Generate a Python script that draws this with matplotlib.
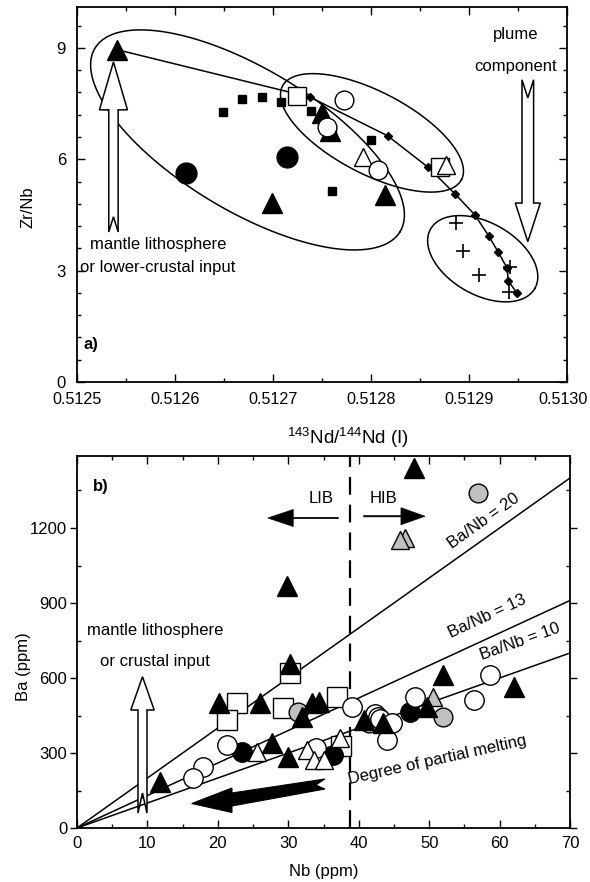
import numpy as np
import matplotlib
matplotlib.use('Agg')
import matplotlib.pyplot as plt
from matplotlib.patches import Polygon, FancyArrow
from matplotlib.ticker import MultipleLocator, FormatStrFormatter
from matplotlib.transforms import ScaledTranslation

plt.rcParams['font.family'] = ['Liberation Sans', 'DejaVu Sans']
plt.rcParams['mathtext.fontset'] = 'custom'
plt.rcParams['mathtext.rm'] = 'Liberation Sans'
plt.rcParams['mathtext.it'] = 'Liberation Sans:italic'
plt.rcParams['mathtext.bf'] = 'Liberation Sans:bold'

# ---------------- Panel a data ----------------
fsq_x = [0.512649, 0.512668, 0.512689, 0.512708, 0.512739, 0.512760, 0.512800, 0.512760]
fsq_y = [7.28, 7.63, 7.67, 7.55, 7.29, 6.77, 6.52, 5.15]
ftri_a_x = [0.512541, 0.512750, 0.512758, 0.512814, 0.512699]
ftri_a_y = [8.95, 7.24, 6.75, 5.04, 4.82]
fcir_a_x = [0.512714, 0.512611]
fcir_a_y = [6.07, 5.63]
osq_a_x = [0.512724, 0.512870]
osq_a_y = [7.70, 5.80]
ocir_a_x = [0.512772, 0.512755, 0.512807]
ocir_a_y = [7.60, 6.88, 5.71]
otri_a_x = [0.512792, 0.512877]
otri_a_y = [6.07, 5.85]
cross_x = [0.512887, 0.512894, 0.512910, 0.512942, 0.512941]
cross_y = [4.28, 3.53, 2.88, 3.09, 2.43]
mix_x = [0.512541, 0.512738, 0.512817, 0.512858, 0.512886, 0.512906,
         0.512920, 0.512930, 0.512939, 0.512940, 0.512949]
mix_y = [8.95, 7.67, 6.63, 5.79, 5.06, 4.50, 3.94, 3.49, 3.06, 2.73, 2.39]
a_xticks = [0.5125, 0.5126, 0.5127, 0.5128, 0.5129, 0.5130]
a_yticks = [0, 3, 6, 9]

# ---------------- Panel b data ----------------
ftri_b_x = [29.8, 30.3, 20.1, 26.0, 31.9, 33.3, 34.3, 11.8, 27.7, 30.0,
            40.7, 43.5, 49.7, 52.0, 62.0, 47.8]
ftri_b_y = [968, 655, 499, 499, 445, 499, 505, 185, 339, 285,
            432, 419, 485, 612, 565, 1439]
fcir_b_x = [23.4, 36.4, 47.3]
fcir_b_y = [305, 292, 465]
ocir_b_x = [21.3, 17.9, 16.5, 39.0, 42.3, 42.8, 43.0, 44.7, 44.0, 48.0, 56.3, 58.7, 34.0]
ocir_b_y = [332, 245, 199, 485, 455, 445, 435, 419, 352, 525, 512, 612, 319]
osq_b_x = [30.3, 22.7, 21.3, 29.3, 36.9, 37.5]
osq_b_y = [619, 499, 432, 479, 525, 330]
otri_b_x = [25.5, 32.6, 33.6, 35.0, 37.4]
otri_b_y = [305, 312, 272, 272, 359]
gcir_b_x = [31.4, 41.4, 52.0, 57.0]
gcir_b_y = [465, 419, 445, 1339]
gtri_b_x = [46.6, 45.9, 50.6]
gtri_b_y = [1159, 1152, 525]
ratios = [20, 13, 10]
ratio_labels = ['Ba/Nb = 20', 'Ba/Nb = 13', 'Ba/Nb = 10']
ratio_label_pos = [(57.8, 1228), (58.2, 848), (62.9, 745)]
lib_hib_x = 38.8
b_xticks = [0, 10, 20, 30, 40, 50, 60, 70]
b_yticks = [0, 300, 600, 900, 1200]

W, H = 590, 882
fig = plt.figure(figsize=(W / 100, H / 100), dpi=100)
fig.patch.set_facecolor('white')

axA = fig.add_axes([77 / W, 1 - 382 / H, 490 / W, 375 / H])
axB = fig.add_axes([77 / W, 1 - 828 / H, 493 / W, 372 / H])

GRAY = '#c0c0c0'
LW = 1.0
FS = 12

def style(ax):
    for s in ax.spines.values():
        s.set_linewidth(1.3)
    ax.tick_params(which='both', direction='in', top=True, right=True,
                   width=1.0, labelsize=FS, color='k')
    ax.tick_params(which='major', length=6)
    ax.tick_params(which='minor', length=3)

# ================= Panel a =================
ax = axA
ax.set_xlim(0.5125, 0.5130)
ax.set_ylim(0, 10.1)
style(ax)
ax.set_xticks(a_xticks)
ax.xaxis.set_major_formatter(FormatStrFormatter('%.4f'))
ax.xaxis.set_minor_locator(MultipleLocator(0.00005))
ax.set_yticks(a_yticks)
ax.yaxis.set_minor_locator(MultipleLocator(0.6))
ax.tick_params(axis='x', pad=7, labelsize=11.6)
ax.tick_params(axis='y', pad=8)

# pixel -> data scale factors
sxA = (0.5130 - 0.5125) / 490.0
syA = 10.1 / 375.0

def ellipse(ax, cx, cy, a_px, b_px, ang, sx, sy):
    t = np.linspace(0, 2 * np.pi, 400)
    th = np.deg2rad(ang)
    u = a_px * np.cos(t)
    v = b_px * np.sin(t)
    dx = u * np.cos(th) - v * np.sin(th)
    dy = u * np.sin(th) + v * np.cos(th)
    ax.plot(cx + dx * sx, cy - dy * sy, color='k', lw=1.1, zorder=2)

ellipse(ax, 0.512674, 6.52, 178, 71, 31, sxA, syA)
ellipse(ax, 0.512801, 6.71, 101, 41, 27.6, sxA, syA)
ellipse(ax, 0.512914, 3.32, 60, 36, 29.7, sxA, syA)

def vert_arrow(ax, xc, y_tip, y_hb, y_tail, y_notch, hw_px, sw_px, sx,
               fc='white', lw=1.1):
    hw = hw_px * sx
    sw = sw_px * sx
    verts = [(xc, y_tip), (xc + hw, y_hb), (xc + sw, y_hb), (xc + sw, y_tail),
             (xc, y_notch), (xc - sw, y_tail), (xc - sw, y_hb), (xc - hw, y_hb)]
    ax.add_patch(Polygon(verts, closed=True, fc=fc, ec='k', lw=lw, zorder=3))

# mantle lithosphere arrow (up)
vert_arrow(ax, 0.5125372, 8.62, 7.33, 4.04, 4.45, 14, 4.7, sxA)
# plume component arrow (down)
vert_arrow(ax, 0.512960, 3.78, 4.82, 8.14, 7.65, 12.5, 5.8, sxA)

# mixing line with diamonds
ax.plot(mix_x, mix_y, color='k', lw=1.1, zorder=3)
ax.plot(mix_x[1:], mix_y[1:], ls='none', marker='D', ms=4.2, mfc='k', mec='k', zorder=4)

ax.plot(fsq_x, fsq_y, ls='none', marker='s', ms=6.3, mfc='k', mec='k', zorder=5)
ax.plot(osq_a_x, osq_a_y, ls='none', marker='s', ms=13.5, mfc='white', mec='k', mew=LW, zorder=5)
ax.plot(otri_a_x, otri_a_y, ls='none', marker='^', ms=13, mfc='white', mec='k', mew=LW, zorder=6)
ax.plot(ocir_a_x, ocir_a_y, ls='none', marker='o', ms=13.5, mfc='white', mec='k', mew=LW, zorder=6)
ax.plot(ftri_a_x, ftri_a_y, ls='none', marker='^', ms=14.5, mfc='k', mec='k', zorder=5)
ax.plot(fcir_a_x, fcir_a_y, ls='none', marker='o', ms=15, mfc='k', mec='k', zorder=5)
ax.plot(cross_x, cross_y, ls='none', marker='+', ms=10, mec='k', mew=1.2, zorder=6)

ax.text(0.512948, 9.35, 'plume', ha='center', va='center', fontsize=FS)
ax.text(0.512948, 8.50, 'component', ha='center', va='center', fontsize=FS)
ax.text(0.5125133, 3.69, 'mantle lithosphere', ha='left', va='center', fontsize=FS)
ax.text(0.5125030, 3.08, 'or lower-crustal input', ha='left', va='center', fontsize=FS)
ax.text(0.5125065, 1.0, 'a)', ha='left', va='center', fontsize=FS, fontweight='bold')

ax.set_ylabel('Zr/Nb', fontsize=FS, va='center')
ax.yaxis.set_label_coords(-0.1, 0.467)
ax.set_xlabel(r'$^{143}$Nd/$^{144}$Nd (I)', fontsize=13.5, va='center')
ax.xaxis.set_label_coords(0.553, -0.149)

# ================= Panel b =================
ax = axB
ax.set_xlim(0, 70)
ax.set_ylim(0, 1488)
style(ax)
ax.set_xticks(b_xticks)
ax.xaxis.set_minor_locator(MultipleLocator(5))
ax.set_yticks(b_yticks)
ax.yaxis.set_minor_locator(MultipleLocator(150))
ax.tick_params(axis='y', which='major', direction='out', length=5, pad=2)
ax.tick_params(axis='x', pad=6)

sxB = 70 / 493.0
syB = 1488 / 372.0

for r in ratios:
    ax.plot([0, 70], [0, r * 70], color='k', lw=1.1, zorder=2)

fig.canvas.draw()
for r, lab, (lx, ly) in zip(ratios, ratio_labels, ratio_label_pos):
    p0 = ax.transData.transform((0, 0))
    p1 = ax.transData.transform((70, r * 70))
    ang = np.degrees(np.arctan2(p1[1] - p0[1], p1[0] - p0[0]))
    ax.text(lx, ly, lab, rotation=ang, ha='center', va='center',
            fontsize=FS, rotation_mode='anchor')

ax.axvline(lib_hib_x, color='k', lw=1.6, ls=(0, (8, 4.5)), zorder=2)

# LIB / HIB arrows
ax.add_patch(FancyArrow(37.1, 1240, 27.1 - 37.1, 0, width=5, head_width=68,
                        head_length=3.6, length_includes_head=True,
                        fc='k', ec='k', lw=0.5))
ax.add_patch(FancyArrow(40.7, 1247, 49.4 - 40.7, 0, width=5, head_width=68,
                        head_length=3.4, length_includes_head=True,
                        fc='k', ec='k', lw=0.5))
ax.text(34.7, 1319, 'LIB', ha='center', va='center', fontsize=FS)
ax.text(43.5, 1319, 'HIB', ha='center', va='center', fontsize=FS)

# mantle lithosphere arrow (up, white)
vert_arrow(ax, 9.3, 605, 472, 60, 140, 11.7, 4.5, sxB)
ax.text(1.38, 792, 'mantle lithosphere', ha='left', va='center', fontsize=FS)
ax.text(3.27, 665, 'or crustal input', ha='left', va='center', fontsize=FS)

# degree of partial melting arrow (black)
melt_arrow = [(16.3, 98), (22.0, 160), (22.0, 140), (35.2, 196), (33.9, 172),
              (35.2, 156), (22.0, 88), (22.0, 62)]
ax.add_patch(Polygon(melt_arrow, closed=True, fc='k', ec='k', lw=0.8, zorder=3))
ax.text(51.1, 272, 'Degree of partial melting', rotation=12.5, ha='center',
        va='center', fontsize=FS, rotation_mode='anchor')
ax.text(2.2, 1364, 'b)', ha='left', va='center', fontsize=FS, fontweight='bold')

ax.plot(osq_b_x, osq_b_y, ls='none', marker='s', ms=14, mfc='white', mec='k', mew=LW, zorder=5)
ax.plot(gcir_b_x, gcir_b_y, ls='none', marker='o', ms=13.5, mfc=GRAY, mec='k', mew=LW, zorder=5)
ax.plot(gtri_b_x, gtri_b_y, ls='none', marker='^', ms=13.5, mfc=GRAY, mec='k', mew=LW, zorder=5)
ax.plot(fcir_b_x, fcir_b_y, ls='none', marker='o', ms=14, mfc='k', mec='k', zorder=5)
ax.plot(ocir_b_x, ocir_b_y, ls='none', marker='o', ms=14, mfc='white', mec='k', mew=LW, zorder=6)
ax.plot(otri_b_x, otri_b_y, ls='none', marker='^', ms=13, mfc='white', mec='k', mew=LW, zorder=6)
ax.plot(ftri_b_x, ftri_b_y, ls='none', marker='^', ms=14.5, mfc='k', mec='k', zorder=6)

ax.set_ylabel('Ba (ppm)', fontsize=FS, va='center')
ax.yaxis.set_label_coords(-0.1095, 0.433)
ax.set_xlabel('Nb (ppm)', fontsize=FS, va='center')
ax.xaxis.set_label_coords(0.5, -0.118)

# keep the last tick label of panel a inside the figure
fig.canvas.draw()
last = axA.xaxis.get_major_ticks()[-1].label1
last.set_transform(last.get_transform() + ScaledTranslation(-4 / 100, 0, fig.dpi_scale_trans))

fig.savefig('out.png', dpi=100, facecolor='white')
